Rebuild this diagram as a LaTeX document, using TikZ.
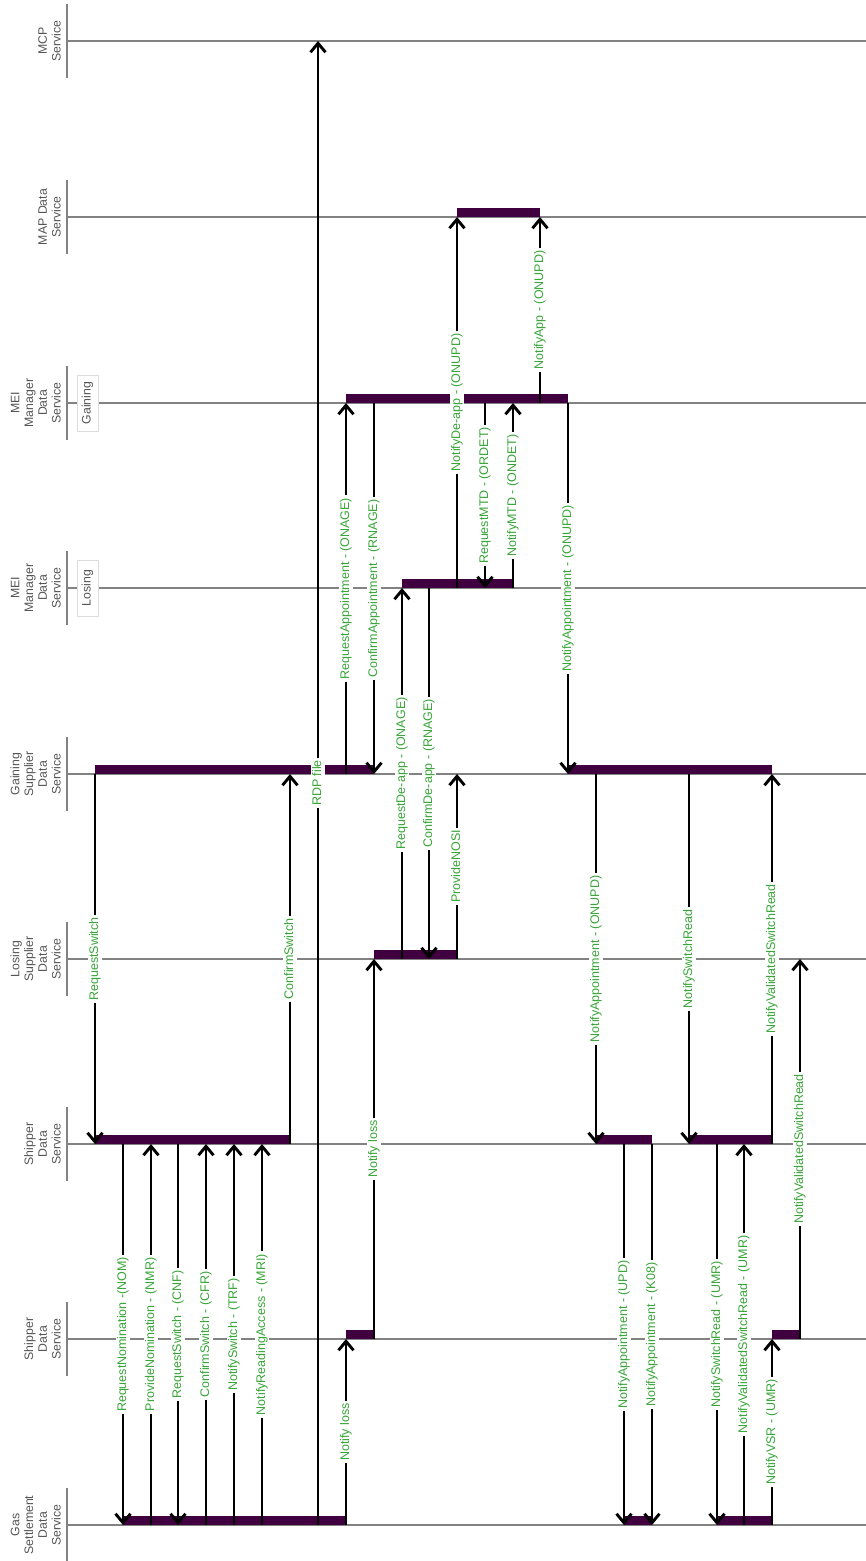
\documentclass[tikz,border=0pt]{standalone}
\usepackage{fontspec}
\setmainfont{Liberation Sans}
\usetikzlibrary{arrows.meta,calc}
\definecolor{lanegray}{RGB}{130,130,130}
\definecolor{barpurple}{RGB}{64,0,64}
\definecolor{lblgreen}{RGB}{55,165,55}
\definecolor{txtgray}{RGB}{85,85,85}
\definecolor{boxgray}{RGB}{220,220,220}
\tikzset{
  laneline/.style={draw=lanegray, line width=1.3pt},
  lanetick/.style={draw=lanegray, line width=1.3pt},
  lanelabel/.style={rotate=90, anchor=south, align=center, inner sep=0pt, text=txtgray, font=\fontsize{12.3}{13.8}\selectfont},
  rolebox/.style={rotate=90, draw=boxgray, fill=white, line width=0.8pt, text=txtgray, font=\fontsize{12.3}{13.5}\selectfont, minimum width=56pt, minimum height=21pt, inner sep=0pt},
  actbar/.style={fill=barpurple},
  msgarrow/.style={draw=black, line width=2.9pt, -{Straight Barb[length=9pt,width=15pt]}},
  msglabel/.style={rotate=90, fill=white, text=lblgreen, font=\fontsize{12.5}{13}\selectfont, inner xsep=2.5pt, inner ysep=1.5pt, text height=9pt, text depth=2.7pt},
}
\def\yMCP{41}
\def\yMAP{217}
\def\yMEIG{403}
\def\yMEIL{588}
\def\yGS{774}
\def\yLS{959}
\def\ySHa{1144}
\def\ySHb{1339}
\def\yGAS{1525}
\newcommand\mylane[3]{%
  \coordinate (#1w) at (67,#2);
  \coordinate (#1e) at (866,#2);
  \draw[laneline] (#1w) -- (#1e);
  \draw[lanetick] ($(#1w)+(0,-37)$) -- ($(#1w)+(0,37)$);
  \node[lanelabel] (#1lbl) at (61,#2) {#3};
}
\newcommand\mybar[4]{%
  \fill[actbar] (#2,#4-9) rectangle (#3,#4);
}
\newcommand\mymsg[5]{%
  \coordinate (#1s) at (#2,#3);
  \coordinate (#1t) at (#2,#4);
  \draw[msgarrow] (#1s) -- (#1t);
  \node[msglabel] (#1l) at ($(#1s)!0.5!(#1t)$) {#5};
}
\begin{document}
\begin{tikzpicture}[x=1pt,y=-1pt]
\useasboundingbox (0,0) rectangle (866,1561);
% lanes
\mylane{mcp}{\yMCP}{MCP\\Service}
\mylane{map}{\yMAP}{MAP Data\\Service}
\mylane{meig}{\yMEIG}{MEI\\Manager\\Data\\Service}
\mylane{meil}{\yMEIL}{MEI\\Manager\\Data\\Service}
\mylane{gs}{\yGS}{Gaining\\Supplier\\Data\\Service}
\mylane{ls}{\yLS}{Losing\\Supplier\\Data\\Service}
\mylane{sha}{\ySHa}{Shipper\\Data\\Service}
\mylane{shb}{\ySHb}{Shipper\\Data\\Service}
\mylane{gas}{\yGAS}{Gas\\Settlement\\Data\\Service}
\node[rolebox] (gainbox) at (87.5,\yMEIG) {Gaining};
\node[rolebox] (losebox) at (87.5,\yMEIL) {Losing};
% activation bars
\mybar{b1}{95}{374}{\yGS}
\mybar{b2}{568}{772}{\yGS}
\mybar{b3}{95}{290}{\ySHa}
\mybar{b4}{596}{652}{\ySHa}
\mybar{b5}{689}{772}{\ySHa}
\mybar{b6}{123}{346}{\yGAS}
\mybar{b7}{624}{652}{\yGAS}
\mybar{b8}{717}{772}{\yGAS}
\mybar{b9}{346}{568}{\yMEIG}
\mybar{b10}{402}{513}{\yMEIL}
\mybar{b11}{457}{540}{\yMAP}
\mybar{b12}{374}{457}{\yLS}
\mybar{b13}{346}{374}{\ySHb}
\mybar{b14}{772}{800}{\ySHb}
% messages
\mymsg{m1}{95}{\yGS}{\ySHa}{RequestSwitch}
\mymsg{m2}{290}{\ySHa}{\yGS}{ConfirmSwitch}
\mymsg{m3}{318}{\yGAS}{\yMCP}{RDP file}
\mymsg{m4}{346}{\yGS}{\yMEIG}{RequestAppointment - (ONAGE)}
\mymsg{m5}{374}{\yMEIG}{\yGS}{ConfirmAppointment - (RNAGE)}
\mymsg{m6}{402}{\yLS}{\yMEIL}{RequestDe-app - (ONAGE)}
\mymsg{m7}{429}{\yMEIL}{\yLS}{ConfirmDe-app - (RNAGE)}
\mymsg{m8}{457}{\yLS}{\yGS}{ProvideNOSI}
\mymsg{m9}{374}{\ySHb}{\yLS}{Notify loss}
\mymsg{m10}{346}{\yGAS}{\ySHb}{Notify loss}
\mymsg{m11}{457}{\yMEIL}{\yMAP}{NotifyDe-app - (ONUPD)}
\mymsg{m12}{485}{\yMEIG}{\yMEIL}{RequestMTD - (ORDET)}
\mymsg{m13}{513}{\yMEIL}{\yMEIG}{NotifyMTD - (ONDET)}
\mymsg{m14}{540}{\yMEIG}{\yMAP}{NotifyApp - (ONUPD)}
\mymsg{m15}{568}{\yMEIG}{\yGS}{NotifyAppointment - (ONUPD)}
\mymsg{m16}{596}{\yGS}{\ySHa}{NotifyAppointment - (ONUPD)}
\mymsg{m17}{689}{\yGS}{\ySHa}{NotifySwitchRead}
\mymsg{m18}{772}{\ySHa}{\yGS}{NotifyValidatedSwitchRead}
\mymsg{m19}{800}{\ySHb}{\yLS}{NotifyValidatedSwitchRead}
\mymsg{m20}{624}{\ySHa}{\yGAS}{NotifyAppointment - (UPD)}
\mymsg{m21}{652}{\ySHa}{\yGAS}{NotifyAppointment - (K08)}
\mymsg{m22}{717}{\ySHa}{\yGAS}{NotifySwitchRead - (UMR)}
\mymsg{m23}{744}{\yGAS}{\ySHa}{NotifyValidatedSwitchRead - (UMR)}
\mymsg{m24}{772}{\yGAS}{\ySHb}{NotifyVSR - (UMR)}
\mymsg{m25}{123}{\ySHa}{\yGAS}{RequestNomination -(NOM)}
\mymsg{m26}{151}{\yGAS}{\ySHa}{ProvideNomination - (NMR)}
\mymsg{m27}{178}{\ySHa}{\yGAS}{RequestSwitch - (CNF)}
\mymsg{m28}{206}{\yGAS}{\ySHa}{ConfirmSwitch - (CFR)}
\mymsg{m29}{234}{\yGAS}{\ySHa}{NotifySwitch - (TRF)}
\mymsg{m30}{262}{\yGAS}{\ySHa}{NotifyReadingAccess - (MRI)}
\end{tikzpicture}
\end{document}
